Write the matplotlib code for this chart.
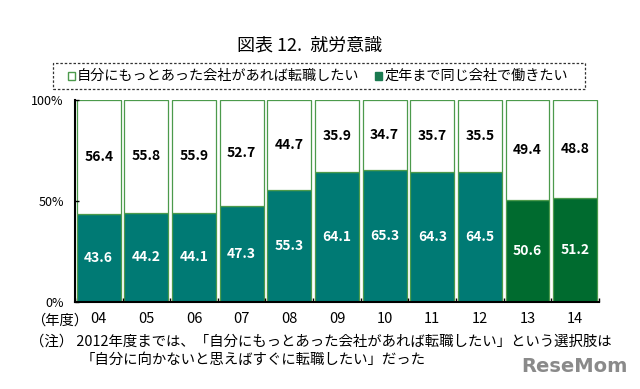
import numpy as np
import matplotlib.pyplot as plt

plt.rcParams['font.family'] = ['Noto Sans CJK JP', 'DejaVu Sans']

# data
years = ['04', '05', '06', '07', '08', '09', '10', '11', '12', '13', '14']
stay = [43.6, 44.2, 44.1, 47.3, 55.3, 64.1, 65.3, 64.3, 64.5, 50.6, 51.2]
change = [56.4, 55.8, 55.9, 52.7, 44.7, 35.9, 34.7, 35.7, 35.5, 49.4, 48.8]
yticks = [0, 50, 100]
ytick_labels = ['0%', '50%', '100%']

teal = '#007a74'
dgreen = '#006b2f'
edge = '#4c9a4c'

fig = plt.figure(figsize=(6.4, 3.89), dpi=100)
ax = fig.add_axes([0.117, 0.224, 0.819, 0.519])

x = np.arange(len(years))
cols = [teal] * 9 + [dgreen] * 2
ax.bar(x, stay, width=0.92, color=cols, edgecolor=edge, linewidth=0.9)
ax.bar(x, change, bottom=stay, width=0.92, color='white', edgecolor=edge, linewidth=0.9)

for i in range(len(years)):
    ax.text(x[i], stay[i] / 2, '%.1f' % stay[i], ha='center', va='center',
            color='white', fontsize=10, fontweight='bold')
    ax.text(x[i], stay[i] + change[i] / 2, '%.1f' % change[i], ha='center', va='center',
            color='black', fontsize=10, fontweight='bold')

ax.set_xlim(-0.5, len(years) - 0.5)
ax.set_ylim(0, 100)
ax.set_yticks(yticks)
ax.set_yticklabels(ytick_labels, fontsize=9)
ax.set_xticks(x)
ax.set_xticklabels(years, fontsize=10.5)
ax.set_xticks(np.arange(-0.5, len(years)), minor=True)
ax.tick_params(axis='x', which='major', length=0, pad=7)
ax.tick_params(axis='x', which='minor', length=3, direction='in', width=1)
ax.tick_params(axis='y', length=3, direction='in', width=1, pad=8)
for s in ['top', 'right']:
    ax.spines[s].set_visible(False)
ax.spines['left'].set_linewidth(1.5)
ax.spines['bottom'].set_linewidth(1.5)

fig.text(0.137, 0.175, '（年度）', fontsize=10.3, ha='right', va='center')

# title
fig.text(0.484, 0.884, '図表 12.  就労意識', fontsize=13, ha='center', va='center')

# legend box
lb = plt.Rectangle((0.083, 0.771), 0.831, 0.067, transform=fig.transFigure,
                   fill=False, linestyle=(0, (2, 1.5)), linewidth=0.9, edgecolor='#333333')
fig.add_artist(lb)
fig.add_artist(plt.Rectangle((0.106, 0.795), 0.011, 0.019, transform=fig.transFigure,
                             facecolor='white', edgecolor=edge, linewidth=1))
fig.text(0.12, 0.805, '自分にもっとあった会社があれば転職したい', fontsize=10.2, va='center')
fig.add_artist(plt.Rectangle((0.586, 0.795), 0.011, 0.019, transform=fig.transFigure,
                             facecolor='#1a7a50', edgecolor='#1a7a50', linewidth=1))
fig.text(0.601, 0.805, '定年まで同じ会社で働きたい', fontsize=10.2, va='center')

# notes
fig.text(0.047, 0.121, '（注） 2012年度までは、「自分にもっとあった会社があれば転職したい」という選択肢は',
         fontsize=10.4, va='center')
fig.text(0.126, 0.0745, '「自分に向かないと思えばすぐに転職したい」だった', fontsize=10.4, va='center')

fig.text(0.98, 0.057, 'ReseMom', fontsize=14, fontweight='bold', color='#8a8a8a',
         ha='right', va='center', family='DejaVu Sans')

fig.savefig('out.png', dpi=100)
